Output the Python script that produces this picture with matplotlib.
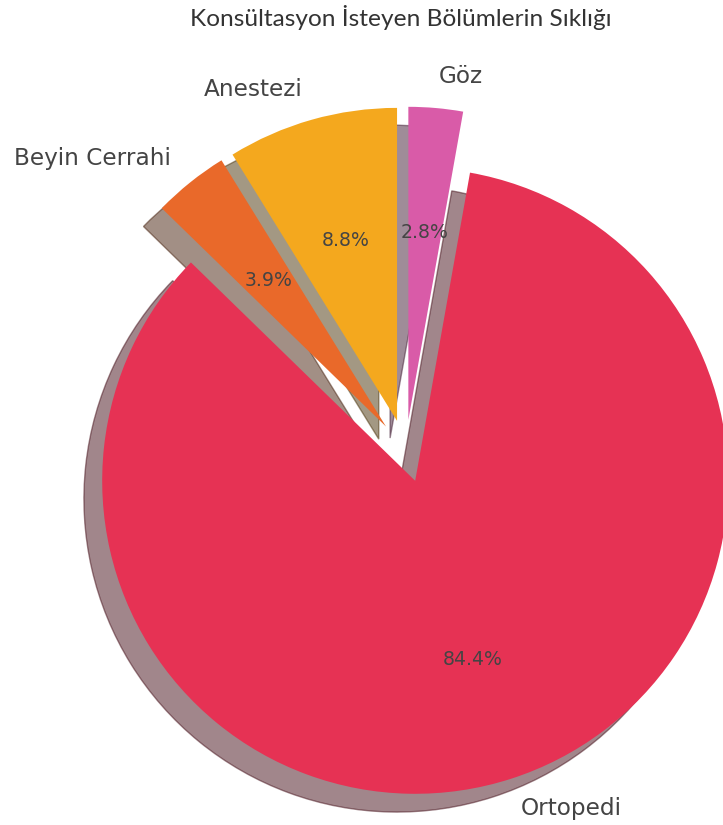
import matplotlib.pyplot as plt

# department shares (%)
departments = ['Anestezi', 'Beyin Cerrahi', 'Ortopedi', 'Göz']
shares = [8.8, 3.9, 84.4, 2.8]
colors = ['#F4A81E', '#E9692A', '#E63254', '#D95BA8']
explode = [0.1, 0.1, 0.1, 0.1]

total = sum(shares)

fig = plt.figure(figsize=(7.23, 8.25), dpi=100)
ax = fig.add_axes([0, 0, 1, 1])

wedges, texts, autotexts = ax.pie(
    shares,
    labels=departments,
    colors=colors,
    explode=explode,
    startangle=90,
    shadow={'ox': -0.042, 'oy': -0.042},
    autopct=lambda p: f"{p * total / 100:.1f}%",
    textprops={'color': '#444444', 'family': 'DejaVu Sans'},
)
for t in texts:
    t.set_fontsize(16.7)
for t in autotexts:
    t.set_fontsize(13.6)

# pie centre sits left of middle, right edge cropped like the original
cx, cy, r = 405.6, 451, 313
ax.set_xlim(-cx / r, (723 - cx) / r)
ax.set_ylim(-(825 - cy) / r, cy / r)
ax.axis('off')

fig.text(401 / 723, 1 - 18 / 825, 'Konsültasyon İsteyen Bölümlerin Sıklığı',
         ha='center', va='center', fontsize=17.6, color='#333333',
         family=['Lato', 'DejaVu Sans'])

fig.savefig('out.png', dpi=100)
